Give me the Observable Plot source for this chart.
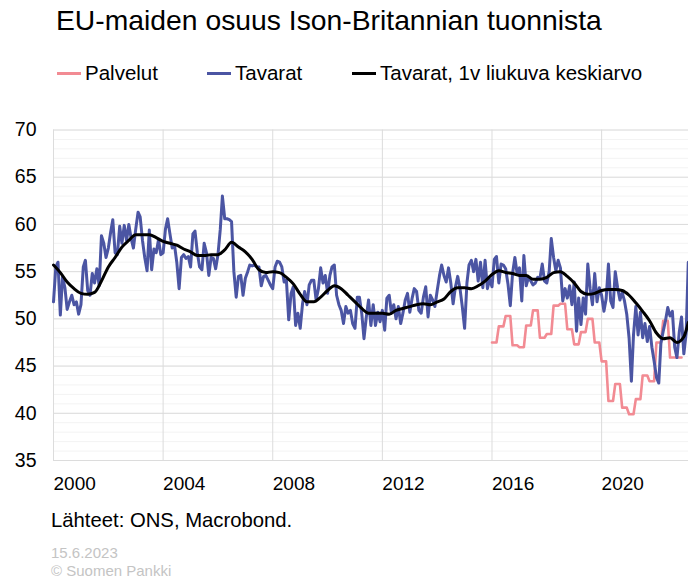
<!DOCTYPE html>
<html>
<head>
<meta charset="utf-8">
<script src="https://cdn.jsdelivr.net/npm/d3@7"></script>
<script src="https://cdn.jsdelivr.net/npm/@observablehq/plot@0.6"></script>
<style>
  body { margin: 0; width: 688px; height: 580px; position: relative; background: #fff;
         font-family: "Liberation Sans", Arial, sans-serif; color: #000; overflow: hidden; }
  .abs { position: absolute; white-space: nowrap; }
  .leg { position: absolute; top: 62px; font-size: 20.5px; line-height: 22px; display: flex; align-items: center; }
  .sw { display: inline-block; width: 24px; height: 3px; margin-right: 4px; }
</style>
</head>
<body>
<div class="abs" style="left:56px; top:4px; font-size:28.3px; line-height:32px;">EU-maiden osuus Ison-Britannian tuonnista</div>
<div class="leg" style="left:57px;"><span class="sw" style="background:#f28b93"></span>Palvelut</div>
<div class="leg" style="left:207px;"><span class="sw" style="background:#4b55a3"></span>Tavarat</div>
<div class="leg" style="left:352px;"><span class="sw" style="background:#000"></span>Tavarat, 1v liukuva keskiarvo</div>
<div class="abs" style="left:62px; top:106px; font-size:19px; line-height:20px;">%</div>
<div id="chart" class="abs" style="left:0; top:100px;"></div>
<div class="abs" style="left:51px; top:509px; font-size:20.3px; line-height:22px;">Lähteet: ONS, Macrobond.</div>
<div class="abs" style="left:51px; top:544px; font-size:15px; line-height:18px; color:#c4c4c4;">15.6.2023<br>© Suomen Pankki</div>
<script>
// Tavarat (goods), monthly from 2000-01
const goodsStart = "2000-01-01";
const goodsValues = [
  51.8, 55.5, 56.0, 50.4, 54.5, 53.3, 51.0, 51.8, 52.5, 51.5, 51.8, 50.5,
  51.5, 55.5, 56.2, 53.0, 52.5, 54.8, 53.8, 55.3, 53.5, 58.8, 58.0, 56.5,
  57.5, 59.2, 60.5, 57.0, 56.8, 59.8, 58.0, 59.9, 58.3, 60.0, 58.5, 57.5,
  59.5, 61.3, 60.8, 58.3, 56.5, 55.1, 59.4, 55.2, 57.4, 57.0, 58.4, 56.8,
  57.0, 59.5, 60.6, 59.0, 57.5, 57.8, 56.0, 53.2, 56.5, 56.8, 56.4, 56.6,
  55.5, 59.0, 59.3, 57.0, 55.5, 55.2, 58.0, 57.0, 54.6, 56.5, 56.4, 55.3,
  56.8, 59.5, 63.0, 60.6, 60.6, 60.5, 60.3, 55.0, 52.3, 54.5, 54.6, 52.5,
  54.3, 55.0, 55.7, 55.6, 55.7, 55.5, 55.5, 53.5, 54.5, 54.6, 54.1, 53.6,
  53.2, 55.5, 56.1, 56.0, 55.5, 53.9, 54.1, 49.9, 52.7, 53.4, 49.3, 50.6,
  49.0, 51.6, 52.9, 51.5, 53.6, 54.1, 54.1, 52.0, 53.2, 55.4, 53.8, 54.6,
  52.7, 54.6, 55.5, 55.7, 52.5, 51.5, 50.9, 49.5, 51.3, 50.6, 50.9, 49.5,
  49.0, 52.3, 52.3, 50.6, 47.9, 50.2, 52.0, 49.3, 51.5, 49.3, 50.7, 49.7,
  50.9, 48.8, 52.2, 52.5, 50.6, 51.5, 50.0, 51.3, 49.5, 50.6, 52.0, 52.7,
  50.7, 52.2, 53.2, 52.9, 50.9, 50.6, 52.3, 53.4, 50.2, 52.5, 52.0, 51.3,
  53.0, 54.6, 55.7, 54.6, 53.9, 55.4, 53.8, 51.6, 53.4, 54.5, 53.2, 51.3,
  49.0, 53.8, 55.7, 56.2, 55.0, 56.3, 54.0, 56.0, 53.3, 56.2, 53.2, 54.2,
  53.4, 56.3, 56.6, 53.8, 55.8, 55.7, 55.3, 53.7, 51.4, 54.8, 56.5, 54.8,
  55.4, 51.9, 56.7, 53.5, 54.4, 54.0, 53.6, 53.8, 54.4, 54.3, 55.8, 54.0,
  53.8, 55.0, 58.5, 56.5, 55.1, 56.2, 55.4, 51.9, 53.2, 52.2, 53.5, 51.5,
  53.9, 48.7, 52.2, 49.4, 52.2, 50.5, 55.8, 53.2, 51.5, 54.8, 51.8, 53.3,
  52.5, 50.8, 52.1, 55.8, 51.9, 51.2, 55.0, 53.3, 52.0, 52.8, 51.9, 50.5,
  48.0, 43.4, 48.3, 51.3, 48.3, 50.7, 48.0, 49.5, 47.6, 49.2, 47.0, 45.5,
  43.8, 43.2, 47.4, 48.7, 49.8, 51.2, 50.3, 50.8, 47.0, 45.9, 48.6, 50.2,
  46.3, 48.5, 56.0
];

// Tavarat, 1v liukuva keskiarvo (moving average), read every 3 months from 2000-01
const maStart = "2000-01-01";
const maValues = [
  55.7, 54.9, 53.9, 53.2, 52.7, 52.6, 52.8, 54.0, 55.5, 56.5, 57.6, 58.3,
  58.9, 58.9, 58.9, 58.6, 58.2, 58.0, 57.8, 57.4, 57.1, 56.7, 56.7, 56.8,
  56.8, 57.3, 58.1, 57.6, 57.1, 56.3, 55.2, 54.9, 55.0, 54.9, 54.4, 53.7,
  52.6, 51.8, 51.8, 52.3, 53.0, 53.5, 53.2, 52.5, 51.8, 51.1, 50.6, 50.6,
  50.6, 50.5, 50.9, 51.1, 51.3, 51.5, 51.6, 51.5, 51.8, 52.1, 52.9, 53.3,
  53.3, 53.2, 53.5, 54.0, 54.7, 55.1, 54.9, 54.8, 54.6, 54.6, 54.2, 54.2,
  54.4, 54.9, 55.0, 54.5, 53.8, 52.9, 52.6, 52.7, 53.0, 53.1, 53.1, 53.0,
  52.5, 51.7, 50.8, 49.8, 48.5, 47.9, 48.0, 47.5, 48.1
];
const maLastDate = "2023-03-01";
const maLastValue = 49.6;

// Palvelut (services), quarterly from 2016Q1
const servicesStart = "2016-01-01";
const servicesQuarterly = [
  47.5, 49.2, 50.3, 47.2, 47.0, 49.3, 50.9, 48.0, 48.4, 51.4, 51.6, 48.9,
  47.3, 48.6, 50.0, 47.5, 45.5, 41.3, 43.1, 40.6, 39.9, 41.5, 44.0, 43.4,
  47.5, 49.8, 45.9, 45.9
];

const yTicks = [35, 40, 45, 50, 55, 60, 65, 70];
const xTickYears = [2000, 2004, 2008, 2012, 2016, 2020];

const parse = d3.utcParse("%Y-%m-%d");
const goods = goodsValues.map((v, i) => ({date: d3.utcMonth.offset(parse(goodsStart), i), value: v}));
const ma = maValues.map((v, i) => ({date: d3.utcMonth.offset(parse(maStart), 3 * i), value: v}))
  .concat([{date: parse(maLastDate), value: maLastValue}]);
const services = servicesQuarterly.flatMap((v, q) =>
  [0, 1, 2].map(k => ({date: d3.utcMonth.offset(parse(servicesStart), 3 * q + k), value: v})));
const xTicks = xTickYears.map(y => new Date(Date.UTC(y, 0, 1)));
const minorY = d3.range(35, 71, 1);

const chart = Plot.plot({
  width: 688,
  height: 400,
  marginTop: 29.5,
  marginBottom: 40,
  marginLeft: 53,
  marginRight: 0,
  style: {fontFamily: "'Liberation Sans', Arial, sans-serif", fontSize: "19px", color: "#000", background: "#fff", overflow: "visible"},
  x: {type: "utc", domain: [parse("2000-01-01"), parse("2023-03-04")], label: null},
  y: {domain: [35, 70], label: null},
  marks: [
    Plot.gridY(minorY, {stroke: "#f3f3f3", strokeOpacity: 1}),
    Plot.gridY(yTicks, {stroke: "#dcdcdc", strokeOpacity: 1}),
    Plot.gridX(xTicks, {stroke: "#dcdcdc", strokeOpacity: 1}),
    Plot.line(services, {x: "date", y: "value", stroke: "#f28b93", strokeWidth: 2.6}),
    Plot.line(goods, {x: "date", y: "value", stroke: "#4b55a3", strokeWidth: 3}),
    Plot.line(ma, {x: "date", y: "value", stroke: "#000", strokeWidth: 3, curve: "monotone-x"}),
    Plot.axisY(yTicks, {tickSize: 0, tickPadding: 17, fontSize: 19.5}),
    Plot.axisX(xTicks, {tickSize: 0, tickPadding: 16, textAnchor: "start", tickFormat: d3.utcFormat("%Y"), fontSize: 19})
  ]
});
document.getElementById("chart").appendChild(chart);
</script>
</body>
</html>
